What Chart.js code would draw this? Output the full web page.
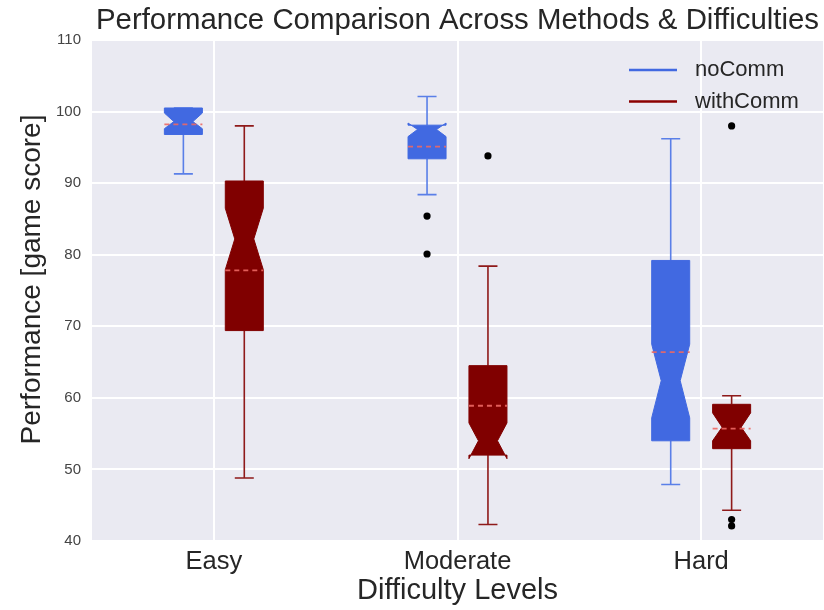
<!DOCTYPE html>
<html>
<head>
<meta charset="utf-8">
<script src="https://cdn.jsdelivr.net/npm/chart.js@4.4.1/dist/chart.umd.min.js"></script>
<style>
  html, body { margin: 0; padding: 0; background: #ffffff; }
  #wrap { width: 824px; height: 610px; }
</style>
</head>
<body>
<div id="wrap"><canvas id="c"></canvas></div>
<script>
// Difficulty levels on the x axis
const categories = ['Easy', 'Moderate', 'Hard'];
const seriesNames = ['noComm', 'withComm'];
const yTicks = [40, 50, 60, 70, 80, 90, 100, 110];
const chartTitle = 'Performance Comparison Across Methods & Difficulties';
const yTitle = 'Performance [game score]';

// noComm: box statistics per difficulty level
const noCommLow      = [91.3, 88.4, 47.9];
const noCommQ1       = [96.8, 93.4, 54.0];
const noCommMedian   = [98.6, 97.5, 62.4];
const noCommQ3       = [100.5, 98.1, 79.2];
const noCommHigh     = [100.5, 102.1, 96.2];
const noCommMean     = [98.2, 95.1, 66.4];
const noCommNotchLo  = [97.6, 96.5, 57.2];
const noCommNotchHi  = [99.8, 98.4, 67.5];
const noCommOutliers = [[], [85.4, 80.1], []];

// withComm: box statistics per difficulty level
const withCommLow      = [48.8, 42.3, 44.3];
const withCommQ1       = [69.4, 52.0, 52.9];
const withCommMedian   = [82.2, 54.0, 55.9];
const withCommQ3       = [90.3, 64.5, 59.1];
const withCommHigh     = [98.0, 78.4, 60.3];
const withCommMean     = [77.8, 58.9, 55.7];
const withCommNotchLo  = [77.9, 51.5, 54.0];
const withCommNotchHi  = [86.5, 56.5, 57.9];
const withCommOutliers = [[], [93.8], [98.0, 43.0, 42.1]];

const seriesColors = ['#4169e1', '#800000'];
const legendColors = ['#4169e1', '#8b0000'];
const whiskerColors = ['#5a7fe8', '#8f1a1a'];
const TEXT = '#262626';
const FONT = "'Liberation Sans', Arial, sans-serif";

function buildSeries(i) {
  const src = i === 0
    ? [noCommLow, noCommQ1, noCommMedian, noCommQ3, noCommHigh, noCommMean, noCommNotchLo, noCommNotchHi, noCommOutliers]
    : [withCommLow, withCommQ1, withCommMedian, withCommQ3, withCommHigh, withCommMean, withCommNotchLo, withCommNotchHi, withCommOutliers];
  return categories.map((c, k) => ({
    low: src[0][k], q1: src[1][k], med: src[2][k], q3: src[3][k], high: src[4][k],
    mean: src[5][k], nlo: src[6][k], nhi: src[7][k], out: src[8][k]
  }));
}
const series = [buildSeries(0), buildSeries(1)];

// Plot background
const backgroundPlugin = {
  id: 'plotBackground',
  beforeDraw(chart) {
    const { ctx, chartArea: a } = chart;
    ctx.save();
    ctx.fillStyle = '#ffffff';
    ctx.fillRect(0, 0, chart.width, chart.height);
    ctx.fillStyle = '#eaeaf2';
    ctx.fillRect(a.left, a.top, a.right - a.left, a.bottom - a.top);
    ctx.restore();
  }
};

// Notched box plots, mean lines, whiskers, fliers, legend and titles
const boxPlugin = {
  id: 'notchedBoxes',
  afterDatasetsDraw(chart) {
    const { ctx, chartArea: a } = chart;
    const xs = chart.scales.x, ys = chart.scales.y;
    const catW = xs.getPixelForValue(1) - xs.getPixelForValue(0);
    const boxW = catW * 0.156;
    const shift = catW * 0.125;
    ctx.save();
    ctx.beginPath();
    ctx.rect(a.left, a.top, a.right - a.left, a.bottom - a.top);
    ctx.clip();
    series.forEach((rows, si) => {
      const color = seriesColors[si];
      rows.forEach((s, k) => {
        const cx = xs.getPixelForValue(k) + (si === 0 ? -shift : shift);
        const l = cx - boxW / 2, r = cx + boxW / 2;
        const inL = cx - boxW / 4, inR = cx + boxW / 4;
        const Y = v => ys.getPixelForValue(v);

        // whiskers and caps
        ctx.strokeStyle = whiskerColors[si];
        ctx.lineWidth = 1.6;
        ctx.setLineDash([]);
        ctx.beginPath();
        ctx.moveTo(cx, Y(s.q1)); ctx.lineTo(cx, Y(s.low));
        ctx.moveTo(cx, Y(s.q3)); ctx.lineTo(cx, Y(s.high));
        ctx.moveTo(cx - boxW / 4, Y(s.low)); ctx.lineTo(cx + boxW / 4, Y(s.low));
        ctx.moveTo(cx - boxW / 4, Y(s.high)); ctx.lineTo(cx + boxW / 4, Y(s.high));
        ctx.stroke();

        // notched box
        ctx.beginPath();
        ctx.moveTo(l, Y(s.q1));
        ctx.lineTo(r, Y(s.q1));
        ctx.lineTo(r, Y(s.nlo));
        ctx.lineTo(inR, Y(s.med));
        ctx.lineTo(r, Y(s.nhi));
        ctx.lineTo(r, Y(s.q3));
        ctx.lineTo(l, Y(s.q3));
        ctx.lineTo(l, Y(s.nhi));
        ctx.lineTo(inL, Y(s.med));
        ctx.lineTo(l, Y(s.nlo));
        ctx.closePath();
        ctx.fillStyle = color;
        ctx.fill();
        ctx.lineWidth = 1;
        ctx.strokeStyle = color;
        ctx.stroke();

        // mean line
        ctx.strokeStyle = 'rgba(236, 104, 100, 0.9)';
        ctx.lineWidth = 1.8;
        ctx.setLineDash([5, 4]);
        ctx.beginPath();
        ctx.moveTo(l, Y(s.mean));
        ctx.lineTo(r, Y(s.mean));
        ctx.stroke();
        ctx.setLineDash([]);

        // fliers
        ctx.fillStyle = '#000000';
        s.out.forEach(v => {
          ctx.beginPath();
          ctx.arc(cx, Y(v), 3.6, 0, Math.PI * 2);
          ctx.fill();
        });
      });
    });
    ctx.restore();

    // legend
    ctx.save();
    const lx0 = a.right - 194, lx1 = a.right - 146, tx = a.right - 128;
    ctx.font = '22px ' + FONT;
    ctx.textBaseline = 'middle';
    ctx.textAlign = 'left';
    seriesNames.forEach((name, i) => {
      const y = a.top + 30 + i * 31.5;
      ctx.strokeStyle = legendColors[i];
      ctx.lineWidth = 2.5;
      ctx.beginPath();
      ctx.moveTo(lx0, y);
      ctx.lineTo(lx1, y);
      ctx.stroke();
      ctx.fillStyle = TEXT;
      ctx.fillText(name, tx, y);
    });

    // chart title centred over the plot area
    ctx.font = '29.4px ' + FONT;
    ctx.textAlign = 'center';
    ctx.textBaseline = 'middle';
    ctx.fillStyle = TEXT;
    ctx.fillText(chartTitle, (a.left + a.right) / 2, a.top - 19);

    // y axis title
    ctx.font = '28px ' + FONT;
    ctx.translate(a.left - 60, (a.top + a.bottom) / 2 - 11);
    ctx.rotate(-Math.PI / 2);
    ctx.fillText(yTitle, 0, 0);
    ctx.restore();
  }
};

new Chart(document.getElementById('c'), {
  type: 'bar',
  data: { labels: categories, datasets: [] },
  plugins: [backgroundPlugin, boxPlugin],
  options: {
    responsive: true,
    maintainAspectRatio: false,
    animation: false,
    devicePixelRatio: 1,
    layout: { padding: { left: 0, right: 1, top: 40, bottom: 0 } },
    plugins: {
      legend: { display: false },
      tooltip: { enabled: false },
      title: { display: false }
    },
    scales: {
      x: {
        type: 'category',
        offset: true,
        afterFit(scale) { scale.height = 69; },
        grid: { color: '#ffffff', lineWidth: 2, offset: false, drawTicks: false },
        border: { display: false },
        ticks: { color: TEXT, padding: 6, font: { family: FONT, size: 25.5 } },
        title: {
          display: true, text: 'Difficulty Levels', color: TEXT,
          font: { family: FONT, size: 29 }, padding: { top: 0, bottom: 2 }
        }
      },
      y: {
        type: 'linear',
        min: 40, max: 110,
        afterFit(scale) { scale.width = 92; },
        afterBuildTicks(scale) { scale.ticks = yTicks.map(v => ({ value: v })); },
        grid: { color: '#ffffff', lineWidth: 2, drawTicks: false },
        border: { display: false },
        ticks: { color: '#444444', padding: 11, font: { family: FONT, size: 15 } },
        title: { display: false }
      }
    }
  }
});
</script>
</body>
</html>
